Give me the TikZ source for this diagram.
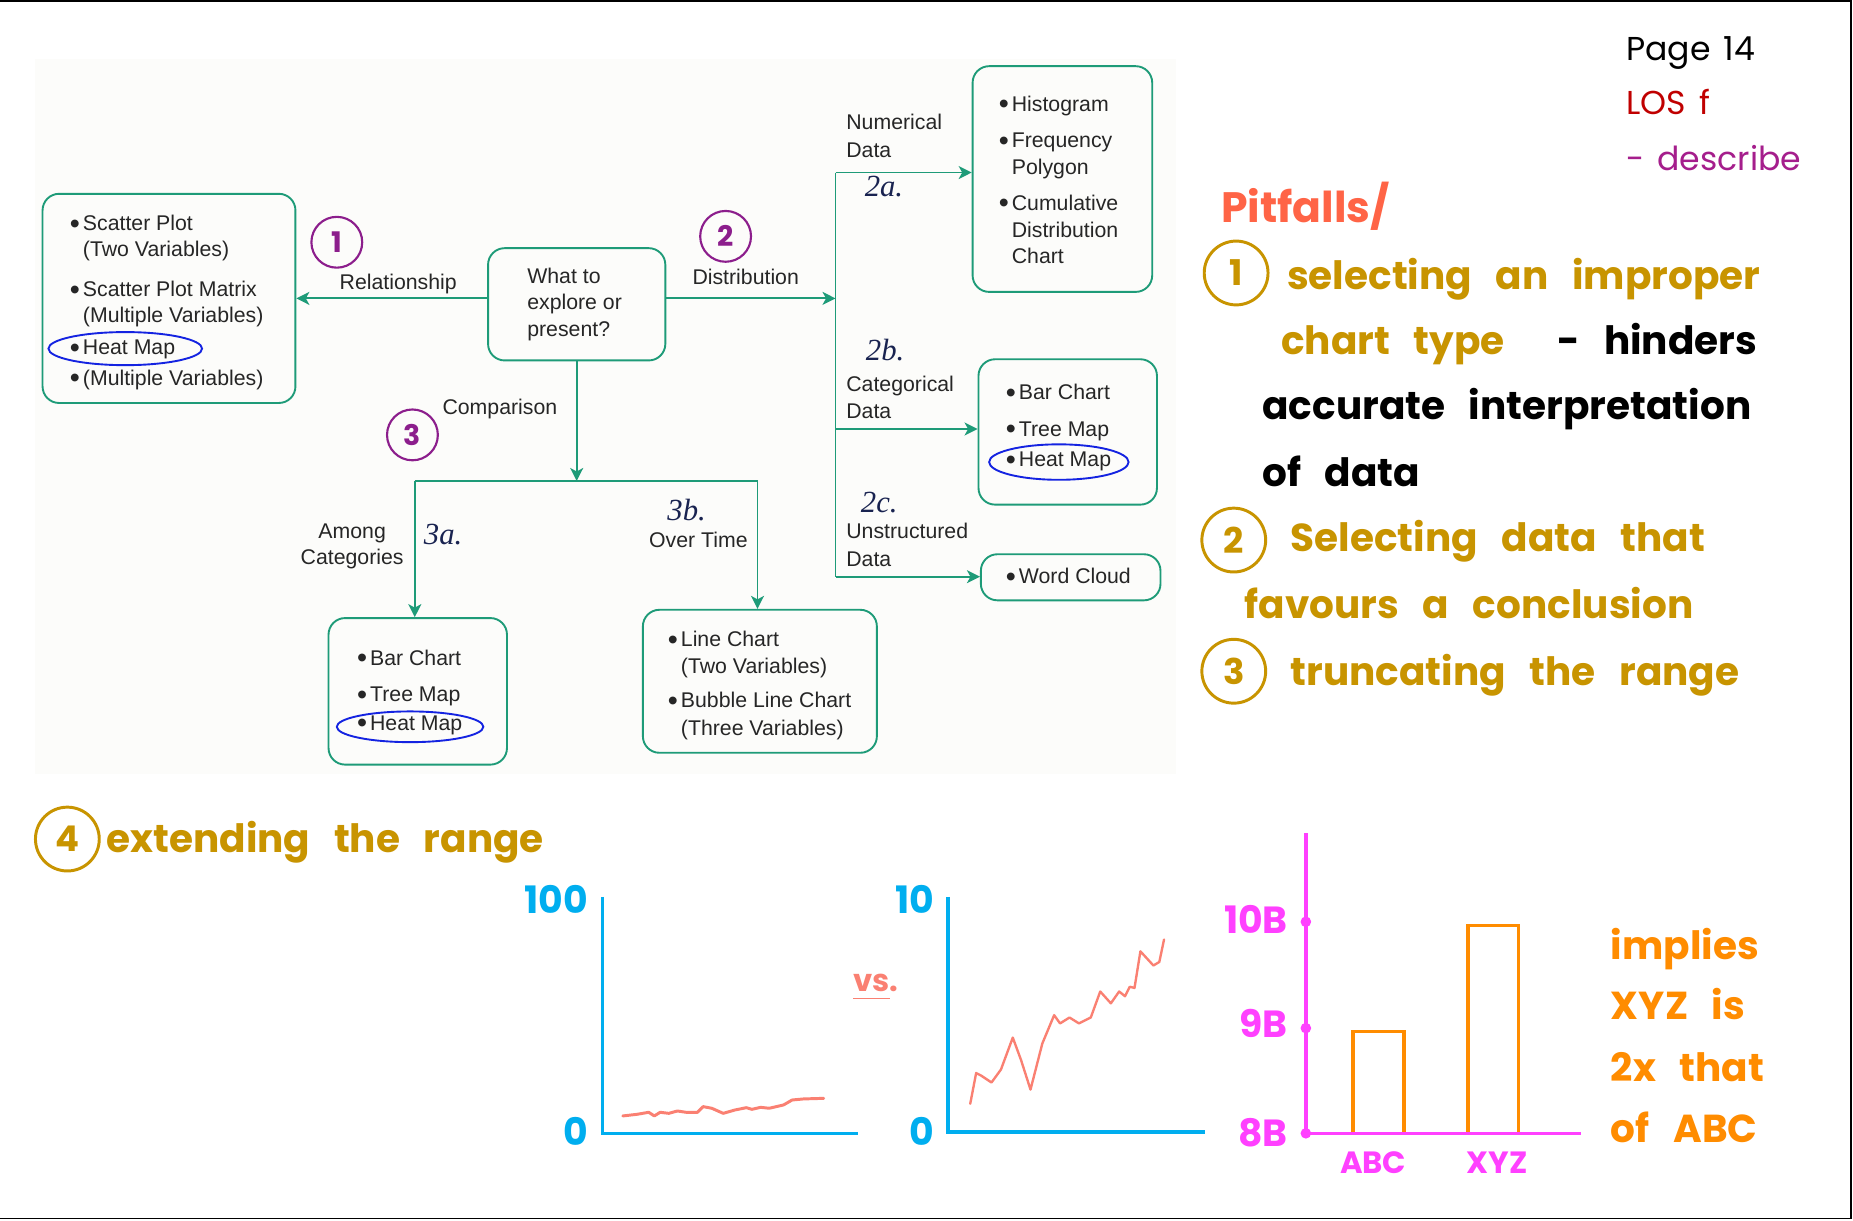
\documentclass[tikz,border=0pt]{standalone}
\usepackage{fontspec}
\setmainfont{Liberation Sans}
\newfontfamily\hand{Poppins}
\newfontfamily\scrib{Liberation Serif}
\usetikzlibrary{arrows.meta}
\definecolor{dgreen}{RGB}{30,155,120}
\definecolor{mypurple}{RGB}{140,30,140}
\definecolor{inkblue}{RGB}{20,35,225}
\definecolor{navy}{RGB}{25,35,80}
\definecolor{gold}{RGB}{200,148,0}
\definecolor{tomato}{RGB}{255,100,70}
\definecolor{losred}{RGB}{192,0,0}
\definecolor{descr}{RGB}{165,30,140}
\definecolor{cyanax}{RGB}{0,174,239}
\definecolor{salmon}{RGB}{250,128,114}
\definecolor{magax}{RGB}{255,64,255}
\definecolor{orng}{RGB}{255,140,0}
\definecolor{bgpanel}{RGB}{252,252,250}
\newcommand{\itembul}{\makebox[11pt][l]{\raisebox{-2.2pt}{\scalebox{1.35}{•}}}}
\newcommand{\widesp}{\spaceskip=20pt plus 3pt\relax}
\newcommand{\medsp}{\spaceskip=11pt plus 2pt\relax}
\tikzset{
  box/.style={draw=dgreen, line width=1.6pt, rounded corners=14pt, inner sep=0pt},
  txt/.style={anchor=base west, inner sep=0pt, font=\fontsize{18}{22}\selectfont, text=black!85},
  ctxt/.style={anchor=base, inner sep=0pt, font=\fontsize{18}{22}\selectfont, text=black!85},
  arr/.style={draw=dgreen, line width=1.6pt, -{Stealth[length=11pt,width=11pt,inset=3pt]}},
  gline/.style={draw=dgreen, line width=1.6pt},
  pcirc/.style={circle, draw=mypurple, line width=1.8pt, text=mypurple, minimum size=43pt, inner sep=0pt, font=\hand\bfseries\fontsize{24}{24}\selectfont},
  inkring/.style={draw=inkblue, line width=1.6pt},
  scribble/.style={inner sep=0pt, text=navy, font=\scrib\itshape\fontsize{26}{26}\selectfont},
  gcirc/.style={circle, draw=gold, line width=2.5pt, text=gold, minimum size=54pt, inner sep=0pt, font=\hand\bfseries\fontsize{30}{30}\selectfont},
  note/.style={anchor=base west, inner sep=0pt, font=\hand\bfseries\fontsize{33}{33}\selectfont\widesp},
  small/.style={anchor=base west, inner sep=0pt, font=\hand\fontsize{28}{28}\selectfont\medsp},
  axlab/.style={anchor=base east, inner sep=0pt, font=\hand\bfseries\fontsize{32}{32}\selectfont},
}
\begin{document}
\begin{tikzpicture}[x=1pt,y=-1pt]
\useasboundingbox (0,0) rectangle (1568,1033);
% frame
\fill[white] (0,0) rectangle (1568,1033);
\draw[black, line width=1.5pt] (0,1) -- (1566,1) -- (1566,1031) -- (0,1031);
\fill[bgpanel] (30,50) rectangle (995,655);

% ---------- boxes ----------
\node[box, minimum width=214pt, minimum height=177pt] (lbox) at (143,252.5) {};
\node[box, minimum width=150pt, minimum height=95pt] (cbox) at (488,257.5) {};
\node[box, minimum width=152pt, minimum height=191pt] (hbox) at (899,151.5) {};
\node[box, minimum width=151pt, minimum height=123pt] (bbox) at (903.5,365.5) {};
\node[box, minimum width=152pt, minimum height=39pt] (wbox) at (906,488.5) {};
\node[box, minimum width=151pt, minimum height=124pt] (abox) at (353.5,585) {};
\node[box, minimum width=198pt, minimum height=121pt] (tbox) at (643,576.5) {};

% left box text
\node[txt] (l1) at (59,195) {\itembul Scatter Plot};
\node[txt] (l2) at (70,217) {(Two Variables)};
\node[txt] (l3) at (59,251) {\itembul Scatter Plot Matrix};
\node[txt] (l4) at (70,273) {(Multiple Variables)};
\node[txt] (l5) at (59,300) {\itembul Heat Map};
\node[txt] (l6) at (59,326) {\itembul (Multiple Variables)};
\draw[inkring] (106,295) ellipse [x radius=65, y radius=14];

% centre box
\node[txt] (c1) at (446,240) {What to};
\node[txt] (c2) at (446,262) {explore or};
\node[txt] (c3) at (446,285) {present?};

% histogram box
\node[txt] (h1) at (845,94) {\itembul Histogram};
\node[txt] (h2) at (845,125) {\itembul Frequency};
\node[txt] (h3) at (856,148) {Polygon};
\node[txt] (h4) at (845,178) {\itembul Cumulative};
\node[txt] (h5) at (856,201) {Distribution};
\node[txt] (h6) at (856,223) {Chart};

% bar box (2b)
\node[txt] (b1) at (851,338) {\itembul Bar Chart};
\node[txt] (b2) at (851,369) {\itembul Tree Map};
\node[txt] (b3) at (851,395) {\itembul Heat Map};
\draw[inkring] (896,391) ellipse [x radius=59, y radius=15];

% word cloud
\node[txt] (w1) at (851,494) {\itembul Word Cloud};

% box 3a
\node[txt] (a1) at (302,563) {\itembul Bar Chart};
\node[txt] (a2) at (302,594) {\itembul Tree Map};
\node[txt] (a3) at (302,618) {\itembul Heat Map};
\draw[inkring] (347,615) ellipse [x radius=62, y radius=13];

% box 3b
\node[txt] (t1) at (565,547) {\itembul Line Chart};
\node[txt] (t2) at (576,570) {(Two Variables)};
\node[txt] (t3) at (565,599) {\itembul Bubble Line Chart};
\node[txt] (t4) at (576,622) {(Three Variables)};

% ---------- connectors ----------
\coordinate (dj) at (707,252.5);
\coordinate (tr1) at (707,146);
\coordinate (tr2) at (707,363);
\coordinate (tr4) at (707,488);
\coordinate (cj) at (488,407);
\coordinate (cl) at (351,407);
\coordinate (cr) at (641,407);

\draw[arr] (cbox.west |- lbox.east) -- (lbox.east);
\draw[arr] (cbox.east |- dj) -- (dj);
\draw[gline] (tr1) -- (tr4);
\draw[arr] (tr1) -- (tr1 -| hbox.west);
\draw[arr] (tr2) -- (tr2 -| bbox.west);
\draw[arr] (tr4) -- (tr4 -| wbox.west);
\draw[arr] (cbox.south) -- (cj);
\draw[gline] (cl) -- (cr);
\draw[arr] (cl) -- (cl |- abox.north);
\draw[arr] (cr) -- (cr |- tbox.north);

% edge labels
\node[ctxt] (lrel) at (337,245) {Relationship};
\node[ctxt] (ldist) at (631,241) {Distribution};
\node[txt] (lnum1) at (716,110) {Numerical};
\node[txt] (lnum2) at (716,133) {Data};
\node[txt] (lcat1) at (716,331) {Categorical};
\node[txt] (lcat2) at (716,354) {Data};
\node[txt] (lun1) at (716,456) {Unstructured};
\node[txt] (lun2) at (716,479) {Data};
\node[ctxt] (lcomp) at (423,351) {Comparison};
\node[ctxt] (lam1) at (298,456) {Among};
\node[ctxt] (lam2) at (298,478) {Categories};
\node[ctxt] (lot) at (591,463) {Over Time};

% purple circled numbers
\node[pcirc] (n1) at (285,205) {1};
\node[pcirc] (n2) at (614,200) {2};
\node[pcirc] (n3) at (349,368) {3};

% handwritten labels
\node[scribble] (s2a) at (748,158) {2a.};
\node[scribble] (s2b) at (749,296) {2b.};
\node[scribble] (s2c) at (744,425) {2c.};
\node[scribble] (s3a) at (375,452) {3a.};
\node[scribble] (s3b) at (581,432) {3b.};

% ---------- right notes ----------
\node[small, text=black] (pg) at (1376,51) {Page 14};
\node[small, text=losred] (los) at (1376,97) {LOS f};
\node[small, text=descr] (desc) at (1376,144) {- describe};
\node[note, text=tomato, font=\hand\bfseries\fontsize{36}{36}\selectfont] (pit) at (1033,188) {Pitfalls/};

\node[gcirc] (p1) at (1046,231) {1};
\node[note, text=gold] (p1a) at (1089,245) {selecting an improper};
\node[note, text=gold] (p1b) at (1084,300) {chart type};
\node[note, text=black] (p1c) at (1318,300) {- hinders};
\node[note, text=black] (p1d) at (1068,355) {accurate interpretation};
\node[note, text=black] (p1e) at (1068,412) {of data};

\node[gcirc] (p2) at (1044,457) {2};
\node[note, text=gold] (p2a) at (1092,467) {Selecting data that};
\node[note, text=gold] (p2b) at (1053,523) {favours a conclusion};

\node[gcirc] (p3) at (1044,568) {3};
\node[note, text=gold] (p3a) at (1092,580) {truncating the range};

\node[gcirc] (p4) at (57,710) {4};
\node[note, text=gold] (p4a) at (90,721) {extending the range};

% ---------- chart 1 ----------
\draw[cyanax, line width=3pt] (510,759) -- (510,959) -- (726,959);
\node[axlab, text=cyanax] (y100) at (498,773) {100};
\node[axlab, text=cyanax] (y0a) at (498,969) {0};
\draw[salmon, line width=2.5pt, line join=round, line cap=round]
 (527,944.3) -- (539.2,942.9) -- (548.9,941.2) -- (553.7,944.3) -- (558.6,941.2) -- (565.9,942.1)
 -- (573.2,940.1) -- (580.5,941.2) -- (590.2,941.2) -- (595.0,936.4) -- (602.3,937.8) -- (612.0,942.1)
 -- (621.7,939.3) -- (631.5,937.3) -- (636.3,938.7) -- (643.6,937.0) -- (650.9,937.8) -- (663.0,935.0)
 -- (670.3,930.8) -- (680.0,929.9) -- (697.0,929.4);

\node[note, text=salmon, font=\hand\bfseries\fontsize{26}{26}\selectfont] (vs) at (722,839) {vs.};
\draw[salmon, line width=1.5pt] (722,845) -- (753,845);

% ---------- chart 2 ----------
\draw[cyanax, line width=3pt] (802,759) -- (802,958) -- (1020,958);
\node[axlab, text=cyanax] (y10) at (791,773) {10};
\node[axlab, text=cyanax] (y0b) at (791,969) {0};
\draw[salmon, line width=2pt, line join=round, line cap=round]
 (821,934) -- (826,908) -- (830,910) -- (839,916) -- (847,905) -- (857,878) -- (864,897) -- (872,922) -- (882,883)
 -- (892,859) -- (897,866) -- (905,861) -- (913,866) -- (923,861) -- (931,839) -- (940,849) -- (947,839)
 -- (952,843) -- (956,835) -- (960,836) -- (965,805) -- (976,817) -- (981,814) -- (985,795);

% ---------- bar chart ----------
\draw[orng, line width=3pt] (1145,959) -- (1145,873) -- (1188,873) -- (1188,959);
\draw[orng, line width=3pt] (1242,959) -- (1242,783) -- (1285,783) -- (1285,959);
\draw[magax, line width=3pt] (1105,705) -- (1105,959) -- (1338,959);
\fill[magax] (1105,780) circle (4.5);
\fill[magax] (1105,870) circle (4.5);
\fill[magax] (1105,959) circle (4.5);
\node[axlab, text=magax] (b10) at (1090,790) {10B};
\node[axlab, text=magax] (b9) at (1090,878) {9B};
\node[axlab, text=magax] (b8) at (1090,970) {8B};
\node[anchor=base, inner sep=0pt, text=magax, font=\hand\bfseries\fontsize{26}{26}\selectfont] (xabc) at (1162,993) {ABC};
\node[anchor=base, inner sep=0pt, text=magax, font=\hand\bfseries\fontsize{26}{26}\selectfont] (xxyz) at (1267,993) {XYZ};

\node[note, text=orng] (im1) at (1363,812) {implies};
\node[note, text=orng] (im2) at (1363,863) {XYZ is};
\node[note, text=orng] (im3) at (1363,915) {2x that};
\node[note, text=orng] (im4) at (1363,967) {of ABC};
\end{tikzpicture}
\end{document}
